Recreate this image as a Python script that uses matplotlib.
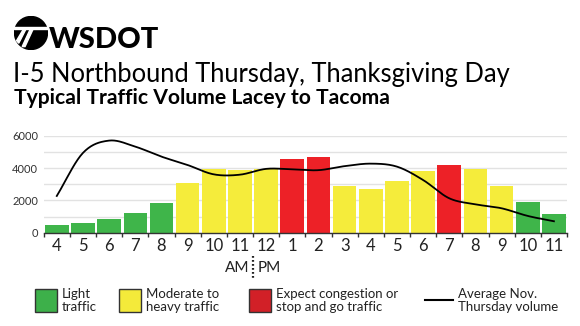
import matplotlib
matplotlib.use("Agg")
import matplotlib.pyplot as plt
import numpy as np
from matplotlib.patches import Rectangle, Circle, Polygon
from matplotlib.lines import Line2D

plt.rcParams.update({
    "font.family": ["Lato", "DejaVu Sans"],
    "text.color": "#222222",
})

# data
hours = ["4", "5", "6", "7", "8", "9", "10", "11", "12", "1",
         "2", "3", "4", "5", "6", "7", "8", "9", "10", "11"]
volume = [450, 620, 870, 1220, 1825, 3090, 3940, 3890, 3960, 4575,
          4680, 2880, 2730, 3230, 3830, 4185, 3940, 2920, 1925, 1160]
level = (["light"] * 5 + ["moderate"] * 4 + ["heavy"] * 2 + ["moderate"] * 4
         + ["heavy"] + ["moderate"] * 2 + ["light"] * 2)
avg_volume = [2280, 4950, 5715, 5340, 4720, 4200, 3620, 3600, 3960, 3930,
              3880, 4130, 4285, 4100, 3270, 2135, 1760, 1515, 1040, 710]

BAR_COLORS = {"light": "#3fb54a", "moderate": "#f5ec3b", "heavy": "#ed2127"}

W, H = 580, 326


def fx(px):
    return px / W


def fy(py):
    return 1 - py / H


def smooth(xs, ys, n=20):
    """Catmull-Rom curve through the points, for drawing only."""
    xs = np.asarray(xs, float)
    ys = np.asarray(ys, float)
    px = np.concatenate([[2 * xs[0] - xs[1]], xs, [2 * xs[-1] - xs[-2]]])
    py = np.concatenate([[2 * ys[0] - ys[1]], ys, [2 * ys[-1] - ys[-2]]])
    out_x, out_y = [], []
    t = np.linspace(0, 1, n, endpoint=False)
    for i in range(1, len(px) - 2):
        for arr, out in ((px, out_x), (py, out_y)):
            p0, p1, p2, p3 = arr[i - 1], arr[i], arr[i + 1], arr[i + 2]
            out.extend(0.5 * (2 * p1 + (-p0 + p2) * t
                              + (2 * p0 - 5 * p1 + 4 * p2 - p3) * t ** 2
                              + (-p0 + 3 * p1 - 3 * p2 + p3) * t ** 3))
    out_x.append(xs[-1])
    out_y.append(ys[-1])
    return np.array(out_x), np.array(out_y)


fig = plt.figure(figsize=(W / 100, H / 100), dpi=100)

# logo
lax = fig.add_axes([fx(14), fy(50), 34 / W, 34 / H])
lax.set_xlim(-1, 1)
lax.set_ylim(-1, 1)
lax.set_aspect("equal")
lax.axis("off")
lax.add_patch(Circle((0, 0), 0.97, color="black"))
lax.add_patch(Rectangle((-1, 0.22), 2, 0.16, color="white"))
lax.add_patch(Polygon([[-0.05, 0.22], [0.12, 0.22], [-0.35, -0.8], [-0.52, -0.8]], color="white"))
lax.add_patch(Polygon([[-0.45, 0.22], [-0.3, 0.22], [-0.72, -0.6], [-0.85, -0.45]], color="white"))
fig.text(fx(49), fy(48), "WSDOT", fontsize=21, fontweight="black", va="baseline", color="black")

fig.text(fx(13), fy(81.7), "I-5 Northbound Thursday, Thanksgiving Day",
         fontsize=18.4, va="baseline", color="black")
fig.text(fx(14), fy(104.3), "Typical Traffic Volume Lacey to Tacoma",
         fontsize=15.2, fontweight="bold", va="baseline", color="black")

# chart
ax = fig.add_axes([fx(43.7), fy(232.7), (567 - 43.7) / W, (232.7 - 136) / H])
x = np.arange(len(hours))
ax.bar(x, volume, width=0.9, color=[BAR_COLORS[l] for l in level], zorder=2)
sx, sy = smooth(x, avg_volume)
ax.plot(sx, sy, color="black", lw=1.3, zorder=3)

ax.set_xlim(-0.5, len(hours) - 0.5)
ax.set_ylim(0, 6000)
ax.set_yticks([0, 2000, 4000, 6000])
ax.set_yticks([1000, 3000, 5000], minor=True)
ax.grid(axis="y", which="both", color="#e2e2e2", lw=1, zorder=0)
ax.set_xticks(x)
ax.set_xticklabels(hours, fontsize=12, color="#222222")
ax.set_xticks(np.arange(-0.5, len(hours), 1), minor=True)
ax.tick_params(axis="x", which="major", length=0, pad=4)
ax.tick_params(axis="x", which="minor", length=3, color="#333333", width=1)
ax.tick_params(axis="y", which="both", length=0, pad=4, labelsize=8, labelcolor="#333333")
for s in ("top", "right", "left"):
    ax.spines[s].set_visible(False)
ax.spines["bottom"].set_color("#333333")
ax.spines["bottom"].set_linewidth(1)
ax.spines["bottom"].set_zorder(4)

# AM | PM marker between 11 and 12
trans = ax.get_xaxis_transform()
ax_h = 232.7 - 136
mid = 7.5
ax.text(mid - 0.14, -(267.5 - 232.7) / ax_h, "AM", transform=trans, ha="right",
        va="center", fontsize=11, clip_on=False)
ax.text(mid + 0.16, -(267.5 - 232.7) / ax_h, "PM", transform=trans, ha="left",
        va="center", fontsize=11, clip_on=False)
ax.plot([mid, mid], [-(256 - 232.7) / ax_h, -(278 - 232.7) / ax_h], transform=trans,
        color="#222222", lw=1.6, ls=(0, (0.8, 1.0)), clip_on=False)

# legend
legend_items = [
    (35, "#3db04a", "Light\ntraffic"),
    (119.3, "#f4ea3a", "Moderate to\nheavy traffic"),
    (249.3, "#d22027", "Expect congestion or\nstop and go traffic"),
]
for px0, col, label in legend_items:
    fig.add_artist(Rectangle((fx(px0), fy(312.3)), 22 / W, 23 / H, transform=fig.transFigure,
                             facecolor=col, edgecolor="#333333", lw=1))
    fig.text(fx(px0 + 27), fy(300.5), label, fontsize=9.5,
             va="center", ha="left", linespacing=1.05)
fig.add_artist(Line2D([fx(425), fx(452.7)], [fy(300), fy(300)], transform=fig.transFigure,
                      color="black", lw=1.5))
fig.text(fx(458.3), fy(300.5), "Average Nov.\nThursday volume", fontsize=9.5,
         va="center", ha="left", linespacing=1.05)

fig.savefig("out.png", dpi=100)
